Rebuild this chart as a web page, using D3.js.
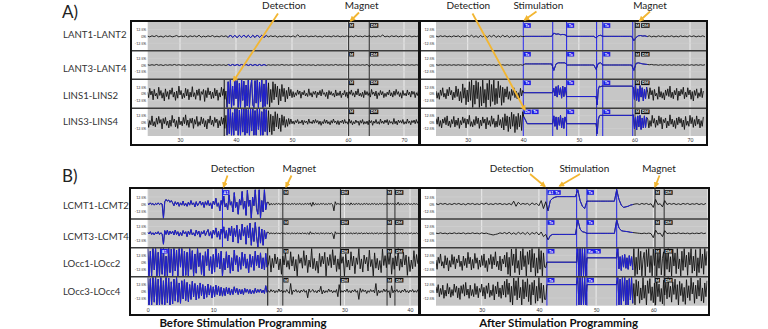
<!DOCTYPE html>
<html><head><meta charset="utf-8">
<script src="https://cdn.jsdelivr.net/npm/d3@7"></script>
<style>body{margin:0;background:#fff;} svg{display:block;font-family:Lato,'Open Sans',sans-serif;}</style>
</head><body><svg id="c" width="768" height="329"></svg>
<script>
// ---------------- DATA ----------------
const channelsA = ["LANT1-LANT2","LANT3-LANT4","LINS1-LINS2","LINS3-LINS4"];
const channelsB = ["LCMT1-LCMT2","LCMT3-LCMT4","LOcc1-LOcc2","LOcc3-LOcc4"];
const xTicksAL = [30,40,50,60,70];
const xTicksAR = [30,40,50,60,70];
const xTicksBL = [0,10,20,30,40];
const xTicksBR = [30,40,50,60];
const yTickValues = [12.5,0,-12.5];
const yTickLabels = ["12.5%","0%","-12.5%"];
const panelTitles = ["Before Stimulation Programming","After Stimulation Programming"];

// Each trace: list of sampled pieces [start time s, sample step s, values in % of full scale]
// Panel A, before
const AL1 = [[24.2,0.4,[0.5,-1,1,-0.5,1.5,-1,0.5,-1.5,1,-0.5, 1,-1,0,1.5,-1,0.5,-0.5,1,-1.5,1, -0.5,1,-1,2,-1.5,0.5,-1,1,-0.5,1.5,
 -1,0.5,-1,1,-0.5,1,-2,2.5,-2,2, -2.5,2,-2,2.5,-2,2,-2.5,2,-2,2.5, -2,2,-2,1.5,-1,1,-0.5,1,-1.5,0.5,
 -1,1,-0.5,0.5,-1,1,-1.5,3,-1,0.5, -0.5,1,-1,0.5,-0.5,1,-1,0.5,-1.5,1, -0.5,0.5,-1,1,-0.5,1,-1,0.5,-0.5,1,
 -1,0.5,-1,1.5,-0.5,0.5,-1,1,-0.5,1, -1,0.5,-1,1,-0.5,2.5,-1,0.5,-1,1, -0.5,1,-1,0.5,-1,1,-0.5,1,-1,0.5,-0.5,1]]];
const AL2 = [[24.2,0.4,[0.5,-0.5,0.5,-0.5,1,-0.5,0.5,-1,0.5,-0.5, 0.5,-0.5,1,-0.5,0.5,-0.5,0.5,-1,0.5,-0.5, 0.5,-0.5,0.5,-0.5,1,-0.5,0.5,-0.5,0.5,-1,
 0.5,-0.5,0.5,-0.5,0.5,-1,1,-1,1,-1, 1,-1,1,-1,1,-1,1,-1,1,-1, 1,-1,1,-1,0.5,-0.5,0.5,-0.5,0.5,-0.5,
 1,-0.5,0.5,-0.5,0.5,-0.5,0.5,-0.5,1,-0.5, 0.5,-0.5,0.5,-0.5,0.5,-1,0.5,-0.5,0.5,-0.5, 0.5,-0.5,0.5,-0.5,1,-0.5,0.5,-0.5,0.5,-0.5,
 0.5,-0.5,0.5,-0.5,0.5,-0.5,0.5,-0.5,1,-2.5, 1,-0.5,0.5,-0.5,0.5,-0.5,0.5,-0.5,0.5,-0.5, 0.5,-0.5,1,-0.5,0.5,-0.5,0.5,-0.5,0.5,-0.5,0.5,-0.5]]];
const AL3 = [
 [24.2,0.2,[3,-7,10,-2,5,-11,8,-4,1,-9, 12,-3,6,-8,2,-13,9,-5,4,-10, 7,-1,11,-6,3,-12,5,-8,14,-2, 6,-9,1,-7,10,-4,8,-11,3,-6,
  13,-5,2,-10,7,-3,9,-12,4,-1, 8,-14,6,-7,11,-2,5,-9,3,-8, 10,-4,7,-12,2,-6,12,-3,9,-10, 5]],
 [38.4,0.2,[-25,22,-18,25,-25,14,-21,25,-9,24, -25,19,-25,25,-12,23,-25,16,-22,25, -25,11,25,-20,-25,24,-17,25,-25,21, -14,25,-25,18,-23,25,-19]],
 [45.8,0.2,[20,-24,8,-16,22,-11,18,-6,14,-20, 9,-13,17,-5,10,-15,6,-9,12,-4,8,-7]],
 [50.2,0.2,[4,-6,2,-3,7,-1,5,-8,3,-2, 6,-4,1,-5,9,-3,2,-6,4,-1, 5,-7,3,-2,6,-4,8,-1,2,-5, 3,-9,6,-2,4,-3,1,-6,7,-4,
  2,-3,5,-7,1,-2,6,-5,3,-8, 4,-1,7,-3,2,-6,5,-2,9,-4, 1,-5,3,-7,6,-2,4,-3,2,-6, 8,-1,3,-4,5,-9,2,-3,6,-2,
  4,-7,1,-5,3,-2,7,-4,2,-6, 5,-3,8,-1,4,-5,2,-8,6,-3, 1,-4,7,-2,3,-6,5,-1,4,-7, 2,-3,6]]];
const AL4 = [
 [24.2,0.2,[6,-10,3,-5,12,-7,1,-9,8,-4, 11,-2,5,-13,7,-3,9,-6,2,-11, 4,-8,13,-1,6,-9,3,-12,10,-5, 2,-7,9,-3,14,-6,4,-10,7,-2,
  8,-12,5,-4,11,-8,1,-6,10,-3, 7,-9,3,-13,6,-2,12,-5,4,-8, 9,-1,6,-11,3,-7,10,-4,8,-12, 13]],
 [38.4,0.2,[-25,25,-22,25,-25,18,-25,25,-16,25, -25,23,-25,25,-19,25,-25,25,-21,24, -25,25,-17,25,-25,22,-25,25,-14,25, -25,20,-25,25,-18,24,-25]],
 [45.8,0.2,[22,-19,15,-24,12,-17,20,-9,16,-13, 8,-18,14,-6,11,-10,5,-8,7,-4,6,-3]],
 [50.2,0.2,[2,-4,3,-1,5,-3,1,-2,4,-5, 3,-1,2,-4,6,-2,1,-3,4,-2, 5,-1,3,-4,2,-6,1,-3,5,-2, 4,-3,1,-5,3,-2,6,-1,2,-4,
  3,-5,2,-1,4,-3,5,-2,1,-4, 6,-2,3,-5,1,-3,4,-1,2,-6, 3,-2,5,-4,1,-3,2,-5,4,-1, 3,-6,2,-2,5,-3,1,-4,6,-2,
  2,-3,4,-1,5,-5,3,-2,1,-4, 7,-3,2,-5,4,-1,3,-2,5,-4, 1,-3,6,-2,2,-5,3,-1,4,-3, 5,-2,3]]];

// Panel A, after
const AR1 = [[24.3,0.4,[0.5,-1,1,-0.5,1,-1,0.5,-1,1,-0.5, 1,-1.5,1,-0.5,1.5,-1,2,-1.5,1,-2, 1.5,-1,2,-2,1.5,-1,2.5,-2,1,-1.5,
 2,-1,1.5,-2,1,-1,1.5,-1,0.5,-0.5, 0,0,0,0,0,0,0,0,0,0, 0,0,0,6,4,4.5,3,3.5,3,0,
 0,0,0,0,0,0,0,0,0,0, 0,0,-3,1,2,0,0,0,0,0, 0,0,0,0,0,0,0,0,0,-8,
 -2,1,1.5,0.5,1,-0.5,1,-1,0.5,-1, 1,-0.5,1,-1,0.5,-0.5,1,-1,0.5,-1, 1,-0.5,0.5,-1,1,-0.5,1,-1,0.5,-0.5,1,-1]]];
const AR2 = [[24.3,0.4,[0.5,-0.5,0.5,-0.5,0.5,-0.5,0.5,-0.5,0.5,-0.5, 0.5,-0.5,0.5,-0.5,0.5,-0.5,0.5,-0.5,0.5,-0.5, 0.5,-0.5,1,-0.5,0.5,-0.5,0.5,-1,0.5,-0.5,
 0.5,-0.5,0.5,-0.5,0.5,-0.5,0.5,-0.5,0.5,-0.5, 2,2,2,2,2,2,2,2,2,2, 2,2,2,-10,2,4,4,4,4,0,
 0,0,0,0,0,0,0,0,0,0, 0,0,-8,3,4,0,0,0,0,0, 0,0,0,0,0,0,0,0,0,-10,
 3,4,3,2,1.5,1,0.5,1,0,0.5, -0.5,0.5,-0.5,0.5,-0.5,0.5,-0.5,0.5,-0.5,0.5, -0.5,0.5,-0.5,0.5,-0.5,0.5,-0.5,0.5,-0.5,0.5,-0.5,0.5]]];
const AR3 = [
 [24.3,0.2,[5,-8,2,-10,7,-3,11,-6,1,-9, 8,-4,12,-2,6,-11,3,-7,14,-5, 9,-13,4,-16,18,-8,11,-20,7,-15, 22,-12,25,-25,16,-19,24,-9,21,-25,
  13,-22,25,-17,8,-25,19,-11,25,-23, 17,-14,25,-20,10,-18,23,-7,15,-21, 12,-16,9,-6,13,-10,4,-12,8,-3, 11,-7,5,-9,2,-8,10,-4,6]],
 [40.1,5.2,[2,2]],
 [45.5,0.2,[10,-4,13,-6,15,-2,11,-8,14,-5,12]],
 [47.8,5.3,[-5,-5]],
 [53.3,0.2,[-20,8,14,13]],
 [54.2,5.4,[14,14]],
 [59.8,0.2,[12,-10,16,-12,9,-14,15,-6,11,-13,8,-9,12]],
 [62.4,0.2,[3,-9,11,-2,6,-12,8,-4,1,-10, 13,-6,4,-8,2,-11,7,-3,9,-5, 14,-7,3,-9,6,-2,10,-12,5,-4, 8,-1,12,-9,3,-6,11,-2,7,-10,
  4,-13,6,-3,9,-8,2,-5,10,-7, 5]]];
const AR4 = [
 [24.3,0.2,[7,-4,10,-8,3,-11,6,-2,9,-5, 12,-7,2,-10,5,-3,11,-9,4,-6, 8,-12,3,-5,10,-2,7,-11,6,-4, 13,-8,1,-9,5,-6,11,-3,8,-12,
  4,-7,10,-2,6,-13,9,-5,3,-8, 12,-4,7,-10,2,-9,14,-6,5,-11, 9,-15,16,-7,12,-18,10,-13,19,-8, 15,-20,11,-14,17,-9,13,-16,20]],
 [40.1,0.3,[10,4]],
 [40.7,4.6,[-3,-3]],
 [45.5,0.2,[12,-8,10,-14,9,-6,13,-11,8,-12,10]],
 [47.8,5.3,[-3,-3]],
 [53.3,0.2,[-22,5,12,13]],
 [54.2,5.4,[13,13]],
 [59.8,0.2,[14,-12,10,-15,12,-9,13,-14,8,-11,12,-10,9]],
 [62.4,0.2,[6,-11,3,-8,13,-2,7,-10,4,-6, 12,-3,9,-13,5,-1,8,-11,2,-7, 14,-4,6,-9,3,-12,8,-5,10,-2, 7,-9,4,-14,11,-6,2,-8,13,-3,
  9,-10,5,-7,12,-4,6,-11,3,-8, 10]]];

// Panel B, before
const BL1 = [
 [0,0.2,[1,-1,2,-1,1,-2,1,-1,2,-1,1,0, -25, 4,8,5,7,3,6,
  2,-3,4,-1,3,-4,2,-2,5,-3, 1,-4,3,-2,6,-1,2,-5,4,-3, 1,5,-2,3,-6,4,-2,
  6,-3,2,-8,5,-1,10,-4,2,-12, 6,-3,14,-5,1,-10,16,-2,4,-14, 20,-6,3,-18,8,-2,22,-9,5,-20, 24,-4,7,-25,12,-3,25,-8,-18,25, -25,6,-14,25,-10,3]],
 [18.4,0.2,[3,-2,1,-1,0.5,-1,1,-0.5,1,-1, 0.5,-1,1,-0.5,1,-1,0.5,-1,1,-0.5, 1,-1,0.5,-0.5,1,-1,0.5,-1,1,-0.5,
  1,-1,2,-4,3,-2,1,-1,0.5,-1, 1,-0.5,1,-1,0.5,-1,1,-0.5,1,-1, -12,4,-1,1,-0.5,1,-1,0.5,-1,1,
  -0.5,1,-2,2,-1,0.5,-1,1,-0.5,1, -1,0.5,-1,1,-0.5,1,-1,0.5,-1,1, -0.5,1,-1,0.5,-1,1,-0.5,1,-1,0.5,
  -1,2,-1,1,-0.5,1,-1,0.5,-1,3, -2,1,-1,0.5,-1,1,-0.5,1,-1,0.5, -1,1,-0.5,0.5,-1]]];
const BL2 = [
 [0,0.2,[2,-1,3,-2,1,-3,2,-1,3,-2,1,-1, -20, 5,-2,6,-3,4,-1,
  4,-3,6,-2,3,-5,2,-4,5,-1, 3,-6,4,-2,7,-3,1,-5,6,-2, 4,-7,3,-1,5,-4,2,
  7,-5,3,-9,6,-2,10,-7,4,-11, 8,-3,12,-9,5,-14,10,-4,13,-16, 9,-6,15,-18,7,-12,17,-5,11,-20, 14,-8,19,-22,10,-15,20,-6,-25,12, -18,8,-22,6,-10,2]],
 [18.4,0.2,[2,-1,1,-0.5,0.5,-1,1,-0.5,0.5,-1, 1,-0.5,0.5,-1,1,-0.5,0.5,-1,1,-0.5, 0.5,-1,1,-0.5,0.5,-1,1,-0.5,0.5,-1,
  1,-2,3,-1,0.5,-1,1,-0.5,0.5,-1, 1,-0.5,0.5,-1,1,-0.5,0.5,-1,1,-0.5, -10,3,-1,0.5,-0.5,1,-1,0.5,-0.5,1,
  -1,0.5,-0.5,1,-1,0.5,-0.5,1,-1,0.5, -0.5,1,-1,0.5,-0.5,1,-1,0.5,-0.5,1, -1,0.5,-0.5,1,-1,0.5,-0.5,1,-1,0.5,
  -0.5,1,-1,0.5,-0.5,1,-1,2,-1,0.5, -0.5,1,-1,0.5,-0.5,1,-1,0.5,-0.5,1, -1,0.5,-0.5,1,-1]]];
const BL3 = [
 [0,0.2,[25,-25,20,-25,25,-14,25,-25,18,-25, 25,-22,25,-25,11,-25,25,-19,24,-25, 25,-16,22,-25,25,-9,25,-25,20,-24,
  18,-25,25,-13,21,-25,15,-20,25,-8, 17,-22,12,-25,19,-6,24,-15,10,-21, 14,-18,25,-9,16,-12,20,-25,7,-14,
  19,-10,13,-20,8,-16,22,-5,12,-17, 9,-13,18,-7,15,-11,6,-19,14,-9, 11,-15,20,-6,13,-10,17,-12,8,-14, 16,-9]],
 [18.4,0.2,[-4,12,-18,7,-10,15,-3,9,-14,6, -22,11,-5,17,-9,3,-13,19,-7,10, -16,5,-25,14,-2,8,-11,21,-6,13,
  -19,4,-9,25,-12,7,-15,2,-20,16, -8,11,-3,18,-25,9,-6,14,-10,23, -5,12,-17,6,-13,20,-2,10,-25,15,
  -9,4,-14,19,-7,11,-21,8,-4,25, -12,6,-18,13,-3,9,-16,22,-8,5, -25,17,-11,7,-14,3,-19,24,-6,12,
  -10,16,-4,20,-22,8,-13,11,-7,25, -15,6,-9,18,-5,13,-24,10,-17,4, -12,21,-8,14,-3]]];
const BL4 = [
 [0,0.2,[25,-25,23,-25,25,-20,25,-25,22,-25, 25,-24,19,-25,25,-21,24,-25,17,-23, 22,-18,25,-20,15,-22,19,-14,21,-17,
  16,-19,12,-15,18,-10,14,-16,11,-13, 15,-8,12,-14,9,-11,13,-7,10,-12, 8,-10,11,-6,9,-8,7,-9,5,-8,
  7,-5,6,-7,4,-6,8,-3,5,-6, 4,-5,3,-6,5,-2,4,-4,3,-5, 2,-4,5,-3,3,-2,4,-3,2,-4, 10,-2]],
 [18.4,0.2,[1,-2,3,-1,2,-3,1,-2,4,-1, 2,-3,1,-2,3,-1,-4,14,-6,2, -1,3,-2,1,-3,2,-1,3,-2,1,
  -12,4,-2,1,3,-2,1,-3,2,-1, 9,-5,2,-3,1,-2,4,-1,2,-3, 1,-2,3,-10,12,-3,1,-2,2,-1,
  4,-2,1,-3,2,-1,3,-2,1,-15, 5,-2,3,-1,2,-4,1,-2,3,-1, 2,-3,14,-8,2,-3,1,-2,4,-1,
  3,-2,1,-12,10,-3,2,-1,3,-2, 1,-3,2,-1,4,-2,1,-3,2,-1, 3,-2,1,-2,3]]];

// Panel B, after
const BR1 = [[22,0.4,[0.5,-1,1,-0.5,1,-1,0.5,-1,1,-0.5, 1,-1,0.5,-1.5,1,-0.5,1,-1,0.5,-1, 1,-0.5,1.5,-1,0.5,-1,1,-0.5,1,-1,
 0.5,-1,1,-1.5,5,-4,3,-1,1,-0.5, 1,-2,2,-1,1,-3,6,-8,4,-12, 6,10,12,13,13,13,13,13,13,13,
 13,13,25,6,-4,-8,5,5,5,5, 5,5,5,5,5,5,5,5,5,25, 8,-2,-6,-5,-4,-2,-1,0,0.5,-1,
 1,-0.5,1,-1,0.5,-6,8,-1,0.5,-5, 6,-1,1,-0.5,1,-1,0.5,-1,1,-0.5, 1,-1,0.5,-0.5,1,-1,0.5,-1,1]]];
const BR2 = [[22,0.4,[0.5,-0.5,1,-0.5,0.5,-1,0.5,-0.5,1,-0.5, 0.5,-0.5,1,-1,0.5,-0.5,1,-0.5,0.5,-1, 1,-0.5,0.5,-1,-2,-3,-2,-1,1,-0.5,
 1.5,-1,2,-1.5,1,-2,2,-1,1.5,-2, 2,-2.5,1.5,-1,2,-3,2.5,-6,-2,-12, -4,-2,-2,-2,-2,-2,-2,-2,-2,-2,
 -2,-2,25,8,3,2,0,0,0,0, 0,0,0,0,0,0,0,0,0,25, 10,5,4,3.5,3,2,1.5,1,0.5,0,
 -0.5,0.5,-0.5,0.5,-0.5,-8,6,-1,0.5,-6, 5,-0.5,0.5,-0.5,0.5,-0.5,1,-0.5,0.5,-0.5, 0.5,-1,0.5,-0.5,0.5,-0.5,1,-0.5,0.5]]];
const BR3 = [
 [22,0.2,[4,-13,9,-2,15,-7,1,-11,12,-5, 8,-16,3,-9,14,-4,10,-12,6,-1, 13,-8,2,-15,11,-6,7,-10,18,-3,
  9,-14,5,-11,16,-2,8,-13,4,-9, 12,-6,15,-10,3,-17,7,-4,14,-12, 10,-5,19,-8,2,-14,11,-16,6,-3,
  13,-9,18,-22,9,-25,24,-6,15,-19, 25,-11,3,-23,20,-14,25,-8,12,-25, 19,-4,22,-18,25,-10,16,-25,8,-20, 25,-13,21,-25,17,-9,-10]],
 [41.4,5.2,[0,0]],
 [46.8,0.2,[25,-25,25,-25,25,-25,25,-25]],
 [48.4,5.2,[8,8]],
 [53.8,0.2,[25,-12,10,-15,12,-9,14,-11,8,-13,12,-7,10,-14]],
 [56.6,0.2,[25,-25,9,-22,25,-14,20,-25,5,18, -25,23,-8,25,-19,12,-25,24,-6,21, -25,16,-11,25,-23,7,19,-25,22,-13,
  25,-18,10,-25,24,-7,17,-21,25,-12, 6,-25,20,-15,25,-9,13,-24,18,-5, 25,-20,11,-16,23,-25,8,-19,25,-11, 15,-22,25,-6,20]]];
const BR4 = [
 [22,0.2,[8,-3,12,-10,5,-6,11,-13,2,-9, 14,-5,7,-11,3,-8,13,-2,9,-12, 6,-15,10,-4,12,-9,16,-7,4,-13,
  11,-8,3,-10,14,-6,9,-12,5,-2, 13,-9,7,-14,10,-4,15,-11,2,-8, 12,-16,9,-5,17,-10,6,-13,11,-7,
  18,-11,22,-6,15,-20,9,-25,24,-8, 19,-16,25,-12,7,-25,21,-14,17,-10, 23,-19,12,-25,16,-7,20,-22,9,-18, 25,-13,15,-21,11,-15,-15]],
 [41.4,5.2,[12,12]],
 [46.8,0.2,[25,-25,25,-25,25,-25,25,-25]],
 [48.4,5.2,[12,12]],
 [53.8,0.2,[25,-25,22,-25,25,-18,25,-25,20,-25,23,-16,25,-22]],
 [56.6,0.2,[14,-25,21,-9,18,-22,6,-16,25,-13, 11,-25,19,-4,23,-17,8,-21,15,-25, 24,-10,13,-19,5,-23,20,-7,16,-14,
  25,-11,9,-20,17,-6,22,-15,12,-25, 18,-8,14,-19,7,-24,21,-12,10,-17, 25,-5,16,-22,11,-14,20,-9,24,-18, 6,-21,15,-10,19]]];

// stimulation / detection (blue) intervals, s
const blueAL = [[38.3,45.7]];
const blueAR = [[40,62.3]];
const blueBL = [[0,18.3]];
const blueBR = [[41.4,56.5]];

// event lines: [time, kind, first row, last row]
const eventsAL = [[37.9,"mark",2,3],[60.1,"mag",0,3],[63.8,"mag",0,3]];
const eventsAR = [[40,"stim",0,3],[45.3,"stim",0,3],[47.8,"stim",0,3],[53.2,"stim",0,3],[54.3,"stim",0,3],[59.7,"stim",0,3],[60.1,"mag",0,3]];
const eventsBL = [[11.4,"stim",0,1],[18.3,"mark",2,3],[20.6,"mag",0,3],[29.4,"mag",0,3],[36.5,"mag",0,3],[37.7,"mag",0,3]];
const eventsBR = [[41.4,"stim",0,3],[46.6,"stim",0,3],[48.4,"stim",0,3],[53.6,"stim",0,3],[60.3,"mag",0,3],[61.9,"mag",0,3]];

// annotation tags: [time, label, kind, first row, last row]
const tagsAL = [[60.2,"M","mag",0,3],[63.9,"DM","mag",0,3]];
const tagsAR = [[40.1,"Tx","stim",0,2],[40.1,"Dx","stim",3,3],[41.5,"Tx","stim",3,3],[47.9,"Tx","stim",0,3],[54.4,"Tx","stim",0,3],[60.1,"M","mag",0,3],[61.2,"DM","mag",0,3]];
const tagsBL = [[11.4,"A1","stim",0,0],[2.0,"B1","stim",2,2],[20.7,"M","mag",0,3],[29.4,"DM","mag",0,3],[36.5,"M","mag",0,3],[37.7,"DM","mag",0,3]];
const tagsBR = [[41.5,"A1","stim",0,0],[42.6,"Tx","stim",0,0],[41.5,"Tx","stim",1,3],[48.4,"Tx","stim",0,1],[48.4,"Rx","stim",2,2],[49.6,"Tx","stim",2,2],[48.4,"Tx","stim",3,3],[60.3,"M","mag",0,3],[61.9,"DM","mag",0,3]];

const annotationText = ["Detection","Magnet","Stimulation"];

// ---------------- LAYOUT ----------------
const svg = d3.select("#c");
const BLUE = "#1f1fe6", GRAY = "#c6c6c6", GOLD = "#f2b632";

const panels = [
  {id:"AL", box:[131,21,419,145], gx:[147.7,418], rows:[22,50.7,79.3,108.3,136], xd:[30,70], xr:[180,404],
   ticks:xTicksAL, traces:[AL1,AL2,AL3,AL4], blue:blueAL, events:eventsAL, tags:tagsAL},
  {id:"AR", box:[420,21,707,145], gx:[436,706], rows:[22,50.7,79.3,108.3,136], xd:[30,70], xr:[467.7,690],
   ticks:xTicksAR, traces:[AR1,AR2,AR3,AR4], blue:blueAR, events:eventsAR, tags:tagsAR},
  {id:"BL", box:[130,188,419,315], gx:[147.7,418], rows:[189,219,247.7,276.7,305.7], xd:[0,40], xr:[147.7,410],
   ticks:xTicksBL, traces:[BL1,BL2,BL3,BL4], blue:blueBL, events:eventsBL, tags:tagsBL},
  {id:"BR", box:[420,188,709,315], gx:[436,707.5], rows:[189,219,247.7,276.7,305.7], xd:[30,60], xr:[481.7,653.3],
   ticks:xTicksBR, traces:[BR1,BR2,BR3,BR4], blue:blueBR, events:eventsBR, tags:tagsBR}
];

const defs = svg.append("defs");
defs.append("marker").attr("id","ah").attr("viewBox","0 0 10 10").attr("refX",8).attr("refY",5)
  .attr("markerWidth",3.2).attr("markerHeight",3.2).attr("orient","auto")
  .append("path").attr("d","M0,0L10,5L0,10Z").attr("fill",GOLD);

panels.forEach(p => {
  const g = svg.append("g");
  const x = d3.scaleLinear().domain(p.xd).range(p.xr);
  const [bx0,by0,bx1,by1] = p.box;
  g.append("rect").attr("x",bx0).attr("y",by0).attr("width",bx1-bx0).attr("height",by1-by0).attr("fill","#fff");
  g.append("rect").attr("x",p.gx[0]).attr("y",p.rows[0]).attr("width",p.gx[1]-p.gx[0]).attr("height",p.rows[4]-p.rows[0]).attr("fill",GRAY);
  g.selectAll(".vg").data(p.ticks).join("line")
    .attr("x1",d=>x(d)).attr("x2",d=>x(d)).attr("y1",p.rows[0]).attr("y2",p.rows[4])
    .attr("stroke","#ececec").attr("stroke-width",1);

  for (let r=0;r<4;r++){
    const y0=p.rows[r], y1=p.rows[r+1];
    const y = d3.scaleLinear().domain([-25,25]).range([y1-0.8,y0+0.8]);
    const cid = `clip-${p.id}-${r}`;
    defs.append("clipPath").attr("id",cid).append("rect")
      .attr("x",p.gx[0]).attr("y",y0).attr("width",p.gx[1]-p.gx[0]).attr("height",y1-y0);
    const rg = g.append("g").attr("clip-path",`url(#${cid})`);
    rg.selectAll(".hl").data([12.5,-12.5]).join("line")
      .attr("x1",p.gx[0]).attr("x2",p.gx[1]).attr("y1",d=>y(d)).attr("y2",d=>y(d))
      .attr("stroke","#d2d2d2").attr("stroke-width",0.6);
    p.events.filter(e=>r>=e[2]&&r<=e[3]).forEach(e=>{
      rg.append("line").attr("x1",x(e[0])).attr("x2",x(e[0])).attr("y1",y0).attr("y2",y1)
        .attr("stroke", e[1]==="stim"?BLUE:(e[1]==="mag"?"#3a3a3a":"#222"))
        .attr("stroke-width", e[1]==="stim"?1:1.1);
    });
    const pts = p.traces[r].flatMap(([t0,dt,vals]) => vals.map((v,i)=>({t:t0+i*dt, v})));
    const line = d3.line().x(d=>x(d.t)).y(d=>y(d.v));
    rg.append("path").attr("d",line(pts)).attr("fill","none").attr("stroke","#111").attr("stroke-width",0.9).attr("stroke-linejoin","round");
    p.blue.forEach(([a,b])=>{
      const seg = pts.filter(d=>d.t>=a-0.05 && d.t<=b+0.05);
      rg.append("path").attr("d",line(seg)).attr("fill","none").attr("stroke",BLUE).attr("stroke-width",0.9).attr("stroke-linejoin","round");
    });
    p.tags.filter(tg=>r>=tg[3]&&r<=tg[4]).forEach(tg=>{
      const w = tg[1].length>1 ? (tg[1]==="DM"?8.5:7) : 5;
      const tx = x(tg[0]);
      rg.append("rect").attr("x",tx).attr("y",y0+1.2).attr("width",w).attr("height",4.6)
        .attr("fill", tg[2]==="stim"?BLUE:"#111");
      rg.append("text").attr("x",tx+w/2).attr("y",y0+4.9).attr("text-anchor","middle")
        .attr("font-size",3.8).attr("font-weight","bold").attr("fill","#fff").text(tg[1]);
    });
    const ya = d3.axisLeft(y).tickValues(yTickValues).tickSize(0).tickPadding(1.5)
      .tickFormat((d,i)=>yTickLabels[i]);
    const yg = g.append("g").attr("transform",`translate(${p.gx[0]},0)`).call(ya);
    yg.select(".domain").remove();
    yg.selectAll("text").attr("font-size",3.6).attr("fill","#333").attr("font-family","Lato, sans-serif");
  }
  g.selectAll(".sep").data(p.rows.slice(1,4)).join("line")
    .attr("x1",bx0).attr("x2",bx1).attr("y1",d=>d).attr("y2",d=>d)
    .attr("stroke","#3c3c3c").attr("stroke-width",1.4);
  const xa = d3.axisBottom(x).tickValues(p.ticks).tickSize(0).tickPadding(2.5);
  const xg = g.append("g").attr("transform",`translate(0,${p.rows[4]})`).call(xa);
  xg.select(".domain").remove();
  xg.selectAll("text").attr("font-size",5).attr("fill","#333").attr("font-family","Lato, sans-serif");
  g.append("rect").attr("x",bx0).attr("y",by0).attr("width",bx1-bx0).attr("height",by1-by0)
    .attr("fill","none").attr("stroke","#111").attr("stroke-width",2);
});

const labelRowsA = [38,71.5,98.5,125];
const labelRowsB = [209,240,267,295];
svg.selectAll(".cla").data(channelsA).join("text").attr("x",63).attr("y",(d,i)=>labelRowsA[i])
  .attr("font-size",9.6).attr("fill","#333").text(d=>d);
svg.selectAll(".clb").data(channelsB).join("text").attr("x",63).attr("y",(d,i)=>labelRowsB[i])
  .attr("font-size",9.6).attr("fill","#333").text(d=>d);

svg.append("text").attr("x",62).attr("y",18).attr("font-size",17).attr("fill","#222").text("A)");
svg.append("text").attr("x",62).attr("y",182).attr("font-size",17).attr("fill","#222").text("B)");

// annotations: [text index, label x, label baseline y, arrow x1,y1,x2,y2]
const annots = [
  [0,284,9.3, 278,13.5, 233.5,81],
  [1,361.7,9.3, 359,12.5, 350.5,21],
  [0,468.3,9.3, 472.5,13.5, 525,110],
  [2,538.3,9.3, 536.5,11.5, 524.5,20],
  [1,650,9.3, 650,11.5, 639.5,21],
  [0,232.7,171.5, 227.5,175.5, 223.5,187],
  [1,299.3,171.5, 291.5,175.5, 286,187],
  [0,511.7,171.5, 530,174, 545,186.5],
  [2,584.3,171.5, 580,174, 559.5,186],
  [1,659,171.5, 659.5,175.5, 655,187]
];
annots.forEach(a=>{
  svg.append("text").attr("x",a[1]).attr("y",a[2]).attr("text-anchor","middle")
    .attr("font-size",10).attr("fill","#222").text(annotationText[a[0]]);
  svg.append("line").attr("x1",a[3]).attr("y1",a[4]).attr("x2",a[5]).attr("y2",a[6])
    .attr("stroke",GOLD).attr("stroke-width",1.8).attr("marker-end","url(#ah)");
});

svg.append("text").attr("x",243).attr("y",327).attr("text-anchor","middle").attr("font-size",11.5)
  .attr("font-weight","bold").attr("fill","#111").text(panelTitles[0]);
svg.append("text").attr("x",558.7).attr("y",327).attr("text-anchor","middle").attr("font-size",11.5)
  .attr("font-weight","bold").attr("fill","#111").text(panelTitles[1]);
</script></body></html>
